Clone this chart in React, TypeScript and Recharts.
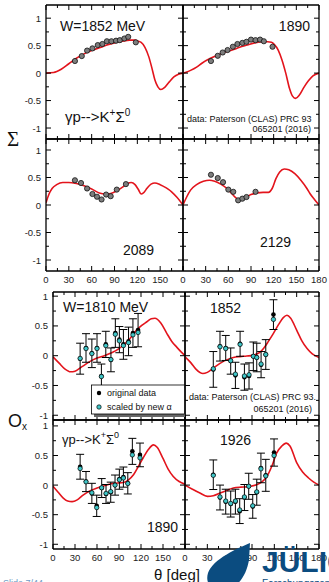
import React from "react";
import { ComposedChart, ErrorBar, Line, Scatter, XAxis, YAxis } from "recharts";

type P = [number, number];

const SANS = "'Liberation Sans', Arial, Helvetica, sans-serif";
const RED = "#e3141c";
const CYAN = "#3fc6c8";
const BLUE = "#0b4c80";

const XT = [0, 15, 30, 45, 60, 75, 90, 105, 120, 135, 150, 165, 180];
const YT = [-1, -0.75, -0.5, -0.25, 0, 0.25, 0.5, 0.75, 1];

// ---- beam asymmetry Sigma: model curves + CLAS points ----
const curveS1852: P[] = [
  [0, 0], [10, 0.01], [20, 0.07], [30, 0.17], [40, 0.27], [50, 0.35], [60, 0.41],
  [70, 0.46], [80, 0.51], [90, 0.55], [100, 0.58], [110, 0.6], [117, 0.6], [121, 0.58],
  [125, 0.56], [130, 0.47], [135, 0.3], [139, 0.1], [143, -0.12], [147, -0.25],
  [151, -0.3], [156, -0.26], [162, -0.16], [168, -0.07], [174, -0.02], [180, 0],
];
const pointsS1852: P[] = [
  [38, 0.22], [47, 0.31], [54, 0.41], [61, 0.45], [68, 0.51], [74, 0.53], [80, 0.58],
  [86, 0.58], [92, 0.59], [97, 0.6], [103, 0.63], [108, 0.66], [118, 0.56],
];

const curveS1890: P[] = [
  [0, 0], [5, 0.02], [10, 0.05], [18, 0.11], [25, 0.18], [35, 0.26], [45, 0.32],
  [55, 0.38], [65, 0.42], [75, 0.47], [85, 0.51], [95, 0.55], [105, 0.57], [112, 0.57],
  [117, 0.56], [121, 0.52], [126, 0.42], [131, 0.24], [136, 0.0], [141, -0.28],
  [145, -0.42], [149, -0.46], [154, -0.4], [160, -0.26], [166, -0.14], [172, -0.05], [180, 0],
];
const pointsS1890: P[] = [
  [37, 0.22], [46, 0.315], [52.5, 0.375], [59, 0.42], [66, 0.48], [72, 0.53], [78.5, 0.55],
  [84, 0.57], [90, 0.61], [96, 0.6], [102, 0.61], [107, 0.58], [118.5, 0.48],
];

const curveS2089: P[] = [
  [0, 0.04], [4, 0.2], [8, 0.3], [14, 0.37], [22, 0.41], [30, 0.41], [40, 0.39],
  [50, 0.35], [60, 0.29], [70, 0.22], [78, 0.2], [85, 0.21], [92, 0.25], [100, 0.32],
  [107, 0.39], [112, 0.41], [117, 0.37], [121, 0.29], [125, 0.2], [128, 0.22],
  [133, 0.31], [138, 0.38], [143, 0.4], [150, 0.37], [158, 0.31], [165, 0.24],
  [172, 0.14], [180, 0],
];
const pointsS2089: P[] = [
  [38, 0.45], [46, 0.4], [54, 0.3], [61, 0.2], [67, 0.15], [73, 0.1], [79, 0.19],
  [85, 0.16], [93, 0.28], [105, 0.38],
];

const curveS2129: P[] = [
  [0, 0], [5, 0.15], [10, 0.27], [18, 0.37], [27, 0.43], [35, 0.45], [42, 0.43],
  [50, 0.38], [58, 0.3], [65, 0.2], [71, 0.12], [76, 0.1], [82, 0.13], [90, 0.19],
  [98, 0.22], [106, 0.23], [113, 0.23], [118, 0.3], [123, 0.48], [128, 0.6],
  [134, 0.655], [140, 0.64], [148, 0.57], [156, 0.45], [164, 0.3], [168, 0.21],
  [174, 0.1], [180, 0],
];
const pointsS2129: P[] = [
  [37, 0.55], [46, 0.49], [53, 0.415], [60, 0.28], [66.5, 0.24], [73, 0.085],
  [78.5, 0.115], [84, 0.145], [96, 0.24],
];

// ---- recoil polarisation Ox ----
const curveO1810: P[] = [
  [0, -0.02], [8, -0.12], [16, -0.22], [24, -0.27], [30, -0.26], [40, -0.18],
  [50, -0.1], [60, -0.04], [70, 0.0], [80, 0.05], [90, 0.12], [96, 0.18], [105, 0.29],
  [114, 0.43], [121, 0.51], [128, 0.57], [134, 0.62], [139, 0.63], [147, 0.55],
  [155, 0.38], [162, 0.24], [169, 0.14], [175, 0.06], [180, 0.0],
];
const thetaO1810 = [37, 45, 53, 60, 66, 72, 79, 85, 90.5, 96, 103, 109, 116];
const origO1810 = [-0.05, 0.13, 0.04, 0.13, -0.34, 0.19, -0.07, 0.38, 0.27, 0.19, 0.24, 0.38, 0.43];
const scaledO1810 = [-0.045, 0.12, 0.035, 0.12, -0.35, 0.17, -0.065, 0.36, 0.25, 0.17, 0.22, 0.35, 0.39];
const errO1810 = [0.26, 0.24, 0.24, 0.24, 0.2, 0.22, 0.2, 0.24, 0.22, 0.25, 0.24, 0.24, 0.28];

const curveO1852: P[] = [
  [0, -0.02], [8, -0.12], [15, -0.23], [24, -0.3], [30, -0.28], [38, -0.21],
  [47, -0.13], [56, -0.07], [65, -0.03], [74, -0.015], [83, -0.005], [92, 0.01],
  [100, 0.05], [106, 0.13], [112, 0.24], [119, 0.38], [126, 0.53], [132, 0.64],
  [137, 0.68], [142, 0.63], [150, 0.43], [157, 0.25], [164, 0.12], [171, 0.03], [180, -0.03],
];
const thetaO1852 = [38, 47, 54.7, 61.4, 67.7, 74, 79.8, 86, 91.8, 96.4, 102.2, 108.5, 118.8];
const origO1852 = [-0.23, 0.16, 0.13, -0.09, -0.33, 0.2, -0.36, -0.34, -0.01, -0.03, -0.15, 0.02, 0.69];
const scaledO1852 = [-0.22, 0.15, 0.12, -0.085, -0.31, 0.19, -0.34, -0.32, -0.01, -0.03, -0.14, 0.02, 0.61];
const errO1852 = [0.3, 0.25, 0.21, 0.22, 0.22, 0.21, 0.22, 0.22, 0.24, 0.24, 0.22, 0.25, 0.25];

const curveO1890: P[] = [
  [0, -0.02], [7, -0.12], [14, -0.22], [20, -0.27], [26, -0.28], [33, -0.25],
  [41, -0.17], [50, -0.1], [60, -0.05], [70, -0.01], [78, 0.02], [88, 0.035],
  [96, 0.045], [103, 0.09], [110, 0.18], [117, 0.33], [123, 0.46], [130, 0.6],
  [137, 0.68], [142, 0.64], [150, 0.45], [157, 0.27], [164, 0.145], [172, 0.06], [180, 0.015],
];
const thetaO1890 = [37, 45, 53, 59.6, 66.4, 72.3, 78.7, 84.6, 90.5, 96, 102, 108.2, 118.6];
const origO1890 = [0.31, 0.06, -0.14, -0.35, -0.05, -0.15, -0.12, 0.0, 0.1, 0.135, 0.03, 0.57, 0.51];
const scaledO1890 = [0.28, 0.055, -0.13, -0.38, -0.045, -0.14, -0.11, 0.0, 0.09, 0.12, 0.027, 0.51, 0.46];
const errO1890 = [0.21, 0.17, 0.17, 0.18, 0.16, 0.16, 0.17, 0.17, 0.17, 0.17, 0.18, 0.22, 0.2];

const curveO1926: P[] = [
  [0, 0.0], [10, -0.07], [20, -0.135], [30, -0.19], [38, -0.18], [47, -0.135],
  [56, -0.09], [65, -0.05], [75, -0.035], [83, -0.03], [90, -0.015], [96, 0.005],
  [103, 0.05], [110, 0.145], [117, 0.33], [123, 0.54], [130, 0.66], [136, 0.71],
  [141, 0.66], [150, 0.38], [158, 0.22], [166, 0.12], [173, 0.05], [180, 0.0],
];
const thetaO1926 = [38, 47, 54.7, 61.4, 67.7, 73.5, 79.8, 85.6, 91, 96.4, 102, 108.5, 119.6];
const origO1926 = [0.175, -0.21, -0.28, -0.32, -0.28, -0.44, -0.21, -0.02, -0.36, -0.12, 0.29, 0.165, 0.55];
const scaledO1926 = [0.165, -0.2, -0.27, -0.31, -0.27, -0.42, -0.2, -0.02, -0.35, -0.115, 0.275, 0.155, 0.5];
const errO1926 = [0.25, 0.21, 0.21, 0.22, 0.21, 0.21, 0.22, 0.22, 0.2, 0.22, 0.25, 0.27, 0.23];

// gutters around every plot frame (in px)
const GL = 40;
const GT = 6;
const GR = 10;
const GB = 22;

type OxSet = { theta: number[]; orig: number[]; scaled: number[]; err: number[] };

type PanelProps = {
  x: number;
  y: number;
  w: number;
  h: number;
  dom: [number, number];
  curve: P[];
  sigma?: P[];
  ox?: OxSet;
  yLab?: boolean;
  xLab?: boolean;
  x180?: boolean;
};

const isMajorY = (v: number) => Math.abs(v * 2 - Math.round(v * 2)) < 1e-6;

function Panel({ x, y, w, h, dom, curve, sigma, ox, yLab, xLab, x180 }: PanelProps) {
  const curveData = curve.map(([t, v]) => ({ t, v }));
  const sigData = (sigma ?? []).map(([t, v]) => ({ t, v }));
  const origData = ox ? ox.theta.map((t, i) => ({ t, v: ox.orig[i], e: ox.err[i] })) : [];
  const scaledData = ox ? ox.theta.map((t, i) => ({ t, v: ox.scaled[i] })) : [];
  const axisLine = { stroke: "#000", strokeWidth: 1.3 };

  const bottomTick = (p: any) => {
    const v = p.payload.value;
    const major = v % 30 === 0;
    return (
      <g>
        <line x1={p.x} x2={p.x} y1={p.y} y2={p.y - (major ? 5 : 3)} stroke="#000" />
        {xLab && major && (v < 180 || x180) ? (
          <text x={p.x} y={p.y + 12} textAnchor="middle" fontSize={9.5} fill="#222" fontFamily={SANS}>
            {v}
          </text>
        ) : null}
      </g>
    );
  };
  const topTick = (p: any) => {
    const major = p.payload.value % 30 === 0;
    return <line x1={p.x} x2={p.x} y1={p.y} y2={p.y + (major ? 5 : 3)} stroke="#000" />;
  };
  const leftTick = (p: any) => {
    const v = p.payload.value;
    const major = isMajorY(v);
    return (
      <g>
        <line x1={p.x} x2={p.x + (major ? 5 : 3)} y1={p.y} y2={p.y} stroke="#000" />
        {yLab && major ? (
          <text x={p.x - 5} y={p.y + 3.5} textAnchor="end" fontSize={9.5} fill="#222" fontFamily={SANS}>
            {String(v)}
          </text>
        ) : null}
      </g>
    );
  };
  const rightTick = (p: any) => {
    const major = isMajorY(p.payload.value);
    return <line x1={p.x} x2={p.x - (major ? 5 : 3)} y1={p.y} y2={p.y} stroke="#000" />;
  };

  return (
    <div style={{ position: "absolute", left: x - GL, top: y - GT }}>
      <ComposedChart
        width={w + GL + GR}
        height={h + GT + GB}
        margin={{ top: GT, right: GR, bottom: 0, left: 0 }}
      >
        <XAxis
          xAxisId="b"
          type="number"
          dataKey="t"
          domain={[0, 180]}
          ticks={XT}
          interval={0}
          allowDataOverflow
          height={GB}
          tickSize={0}
          tickMargin={0}
          tickLine={false}
          axisLine={axisLine}
          tick={bottomTick}
        />
        <XAxis
          xAxisId="top"
          orientation="top"
          mirror
          type="number"
          dataKey="t"
          domain={[0, 180]}
          ticks={XT}
          interval={0}
          allowDataOverflow
          tickSize={0}
          tickMargin={0}
          tickLine={false}
          axisLine={axisLine}
          tick={topTick}
        />
        <YAxis
          yAxisId="l"
          type="number"
          dataKey="v"
          domain={dom}
          ticks={YT}
          interval={0}
          allowDataOverflow
          width={GL}
          tickSize={0}
          tickMargin={0}
          tickLine={false}
          axisLine={axisLine}
          tick={leftTick}
        />
        <YAxis
          yAxisId="r"
          orientation="right"
          mirror
          type="number"
          dataKey="v"
          domain={dom}
          ticks={YT}
          interval={0}
          allowDataOverflow
          width={10}
          tickSize={0}
          tickMargin={0}
          tickLine={false}
          axisLine={axisLine}
          tick={rightTick}
        />
        <Line
          xAxisId="b"
          yAxisId="l"
          data={curveData}
          dataKey="v"
          type="monotone"
          stroke={RED}
          strokeWidth={1.6}
          dot={false}
          isAnimationActive={false}
        />
        {sigma ? (
          <Scatter
            xAxisId="b"
            yAxisId="l"
            data={sigData}
            dataKey="v"
            isAnimationActive={false}
            shape={(p: any) => (
              <circle cx={p.cx} cy={p.cy} r={2.6} fill="#7d7d7d" stroke="#111" strokeWidth={0.8} />
            )}
          />
        ) : null}
        {ox ? (
          <Scatter
            xAxisId="b"
            yAxisId="l"
            data={origData}
            dataKey="v"
            isAnimationActive={false}
            shape={(p: any) => <circle cx={p.cx} cy={p.cy} r={2.3} fill="#000" />}
          >
            <ErrorBar dataKey="e" direction="y" width={4} stroke="#000" strokeWidth={1} />
          </Scatter>
        ) : null}
        {ox ? (
          <Scatter
            xAxisId="b"
            yAxisId="l"
            data={scaledData}
            dataKey="v"
            isAnimationActive={false}
            shape={(p: any) => (
              <circle cx={p.cx} cy={p.cy} r={2.2} fill={CYAN} stroke="#000" strokeWidth={0.7} />
            )}
          />
        ) : null}
      </ComposedChart>
    </div>
  );
}

export default function App() {
  const t = { fontFamily: SANS, fill: "#111" };
  return (
    <div
      style={{
        position: "absolute",
        left: 0,
        top: 0,
        width: 329,
        height: 582,
        overflow: "hidden",
        background: "#fff",
      }}
    >
      <Panel x={46} y={5} w={137} h={134} dom={[-1.2, 1.24]} curve={curveS1852} sigma={pointsS1852} yLab />
      <Panel x={183} y={5} w={136} h={134} dom={[-1.2, 1.24]} curve={curveS1890} sigma={pointsS1890} />
      <Panel x={46} y={139} w={137} h={132} dom={[-1.2, 1.2]} curve={curveS2089} sigma={pointsS2089} yLab xLab />
      <Panel x={183} y={139} w={136} h={132} dom={[-1.2, 1.2]} curve={curveS2129} sigma={pointsS2129} xLab x180 />

      <Panel
        x={53} y={292} w={132} h={128} dom={[-1.08, 1.07]} curve={curveO1810} yLab
        ox={{ theta: thetaO1810, orig: origO1810, scaled: scaledO1810, err: errO1810 }}
      />
      <Panel
        x={185} y={292} w={134} h={128} dom={[-1.08, 1.07]} curve={curveO1852}
        ox={{ theta: thetaO1852, orig: origO1852, scaled: scaledO1852, err: errO1852 }}
      />
      <Panel
        x={53} y={420} w={132} h={129} dom={[-1.08, 1.1]} curve={curveO1890} yLab xLab
        ox={{ theta: thetaO1890, orig: origO1890, scaled: scaledO1890, err: errO1890 }}
      />
      <Panel
        x={185} y={420} w={134} h={129} dom={[-1.08, 1.1]} curve={curveO1926} xLab x180
        ox={{ theta: thetaO1926, orig: origO1926, scaled: scaledO1926, err: errO1926 }}
      />

      <svg width={329} height={582} style={{ position: "absolute", left: 0, top: 0, pointerEvents: "none" }}>
        {/* Sigma block labels */}
        <text x={60} y={31} fontSize={14} {...t}>W=1852 MeV</text>
        <text x={310} y={31} fontSize={14} textAnchor="end" {...t}>1890</text>
        <text x={65} y={122} fontSize={15} {...t}>
          γp--&gt;K<tspan dy={-6} fontSize={10}>+</tspan>
          <tspan dy={6}>Σ</tspan>
          <tspan dy={-6} fontSize={10}>0</tspan>
        </text>
        <text x={187} y={122} fontSize={9} {...t}>data: Paterson (CLAS) PRC 93</text>
        <text x={311} y={132} fontSize={9} textAnchor="end" {...t}>065201 (2016)</text>
        <text x={123} y={255} fontSize={14} {...t}>2089</text>
        <text x={260} y={247} fontSize={14} {...t}>2129</text>
        <text x={7} y={146} fontSize={21} fontFamily="'Liberation Serif', serif" fill="#111">Σ</text>

        {/* Ox block labels */}
        <text x={63} y={312} fontSize={14} {...t}>W=1810 MeV</text>
        <text x={210} y={313} fontSize={14} {...t}>1852</text>
        <text x={189} y={400} fontSize={9} {...t}>data: Paterson (CLAS) PRC 93.</text>
        <text x={312} y={412} fontSize={9} textAnchor="end" {...t}>065201 (2016)</text>
        <text x={62} y={444} fontSize={13} {...t}>
          γp--&gt;K<tspan dy={-6} fontSize={9}>+</tspan>
          <tspan dy={6}>Σ</tspan>
          <tspan dy={-6} fontSize={9}>0</tspan>
        </text>
        <text x={220} y={445} fontSize={14} {...t}>1926</text>
        <text x={147} y={532} fontSize={14} {...t}>1890</text>
        <text x={8} y={427} fontSize={18} {...t}>
          O<tspan fontSize={10} dy={3}>x</tspan>
        </text>
        <text x={177} y={580} fontSize={15} textAnchor="middle" {...t}>θ [deg]</text>

        {/* legend */}
        <rect x={94} y={388} width={91} height={29} fill="#666" />
        <rect x={91.5} y={385} width={93} height={29} fill="#fff" stroke="#000" strokeWidth={0.8} />
        <circle cx={99} cy={393} r={2.2} fill="#000" />
        <text x={107} y={396} fontSize={9} {...t}>original data</text>
        <circle cx={99} cy={407} r={2.2} fill={CYAN} stroke="#000" strokeWidth={0.7} />
        <text x={107} y={410} fontSize={9} {...t}>scaled by new α</text>

        {/* footer */}
        <text x={3} y={586} fontSize={9} fontFamily={SANS} fill="#6b9ac4">Slide 7/44</text>
        <path d="M250,543 C238,548 213,559 208,573 C205,583 211,591 223,590 C237,589 246,577 249,560 Z" fill={BLUE} />
        <text x={262} y={572} fontSize={30} fontWeight="bold" fontFamily={SANS} fill={BLUE}>JÜLICH</text>
        <text x={262} y={587} fontSize={10} fontFamily={SANS} fill={BLUE}>Forschungszentrum</text>
      </svg>
    </div>
  );
}
